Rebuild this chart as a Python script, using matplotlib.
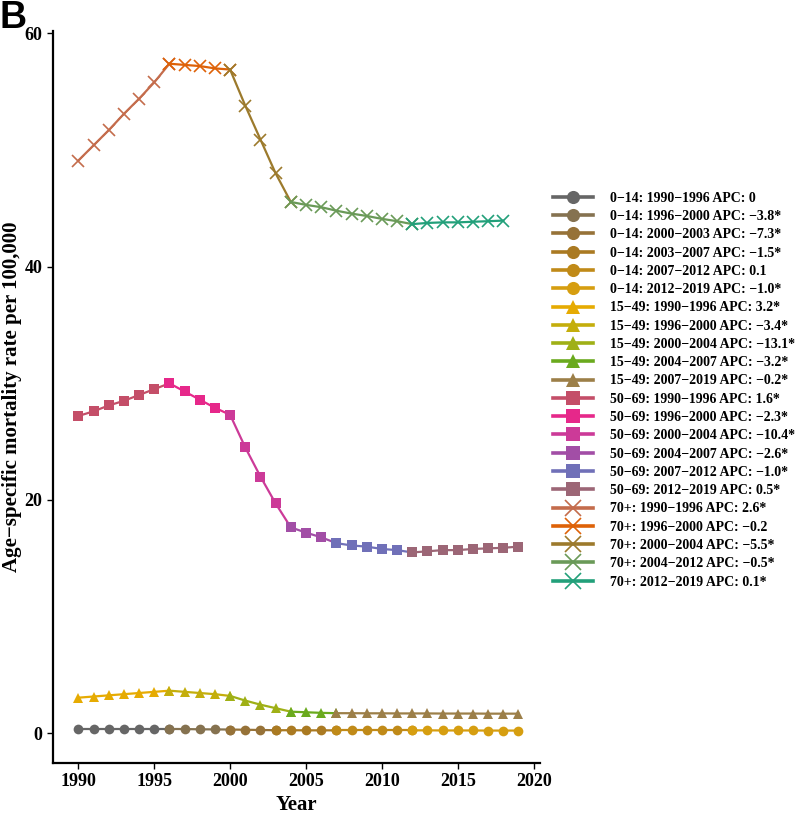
import matplotlib
matplotlib.use("Agg")
import matplotlib.pyplot as plt

years = list(range(1990, 2020))

rate_0_14 = [0.37, 0.37, 0.37, 0.37, 0.37, 0.37, 0.37, 0.36, 0.34, 0.33,
             0.32, 0.30, 0.28, 0.26, 0.26, 0.25, 0.25, 0.25, 0.25, 0.25,
             0.25, 0.25, 0.25, 0.25, 0.24, 0.24, 0.24, 0.23, 0.23, 0.23]
rate_15_49 = [3.05, 3.15, 3.25, 3.35, 3.45, 3.55, 3.65, 3.55, 3.45, 3.35,
              3.2, 2.8, 2.45, 2.15, 1.85, 1.8, 1.75, 1.72, 1.72, 1.71,
              1.71, 1.7, 1.7, 1.7, 1.69, 1.69, 1.69, 1.68, 1.68, 1.68]
rate_50_69 = [27.2, 27.6, 28.1, 28.5, 29.0, 29.5, 30.0, 29.3, 28.6, 27.9,
              27.3, 24.5, 22.0, 19.7, 17.65, 17.2, 16.8, 16.3, 16.1, 16.0,
              15.8, 15.7, 15.5, 15.6, 15.7, 15.7, 15.8, 15.85, 15.9, 16.0]
rate_70 = [49.1, 50.4, 51.7, 53.1, 54.4, 55.8, 57.4, 57.3, 57.2, 57.0,
           56.9, 53.8, 50.9, 48.0, 45.55, 45.3, 45.1, 44.8, 44.55, 44.35,
           44.1, 43.9, 43.65, 43.75, 43.8, 43.8, 43.85, 43.9, 43.95]

groups = ["0\u221214", "15\u221249", "50\u221269", "70+"]
rates = [rate_0_14, rate_15_49, rate_50_69, rate_70]
markers = ["o", "^", "s", "x"]

seg_0_14 = [(1990, 1996, "0"), (1996, 2000, "\u22123.8*"), (2000, 2003, "\u22127.3*"),
            (2003, 2007, "\u22121.5*"), (2007, 2012, "0.1"), (2012, 2019, "\u22121.0*")]
seg_15_49 = [(1990, 1996, "3.2*"), (1996, 2000, "\u22123.4*"), (2000, 2004, "\u221213.1*"),
             (2004, 2007, "\u22123.2*"), (2007, 2019, "\u22120.2*")]
seg_50_69 = [(1990, 1996, "1.6*"), (1996, 2000, "\u22122.3*"), (2000, 2004, "\u221210.4*"),
             (2004, 2007, "\u22122.6*"), (2007, 2012, "\u22121.0*"), (2012, 2019, "0.5*")]
seg_70 = [(1990, 1996, "2.6*"), (1996, 2000, "\u22120.2"), (2000, 2004, "\u22125.5*"),
          (2004, 2012, "\u22120.5*"), (2012, 2019, "0.1*")]
segments = [seg_0_14, seg_15_49, seg_50_69, seg_70]

colors = [
    ["#666666", "#857250", "#967238", "#aa7a22", "#c08a18", "#d69e10"],
    ["#e6ab02", "#c4ae0c", "#9fb016", "#6aaa1e", "#9c7f48"],
    ["#c44e68", "#e6288a", "#cc3a98", "#a24ea6", "#7070b8", "#9c6676"],
    ["#c46c4c", "#de6208", "#9c7a2c", "#6a9a58", "#22a07a"],
]

plt.rcParams['font.family'] = ['Liberation Serif', 'DejaVu Serif']
plt.rcParams['font.weight'] = 'bold'

fig = plt.figure(figsize=(7.96, 8.13), dpi=100)
ax = fig.add_axes([0.0666, 0.0615, 0.612, 0.900])

handles = []
for g, vals, mk, segs, cols in zip(groups, rates, markers, segments, colors):
    yrs = years[:len(vals)]
    for (s, e, apc), c in zip(segs, cols):
        xs = [y for y in yrs if s <= y <= e]
        ys = [v for y, v in zip(yrs, vals) if s <= y <= e]
        if mk == "x":
            h, = ax.plot(xs, ys, color=c, lw=1.6, marker=mk, ms=8.5, mew=1.2,
                         label=f"{g}: {s}\u2212{e} APC: {apc}")
        else:
            h, = ax.plot(xs, ys, color=c, lw=1.6, marker=mk, ms=7, mew=0,
                         label=f"{g}: {s}\u2212{e} APC: {apc}")
        handles.append(h)

ax.set_xlim(1988.33, 2020.43)
ax.set_ylim(-2.55, 60.18)
ax.set_xticks([1990, 1995, 2000, 2005, 2010, 2015, 2020])
ax.set_yticks([0, 20, 40, 60])
ax.spines['top'].set_visible(False)
ax.spines['right'].set_visible(False)
for sp in ['left', 'bottom']:
    ax.spines[sp].set_linewidth(1.6)
    ax.spines[sp].set_color('black')
ax.tick_params(axis='both', labelsize=13, width=1, length=4, colors='black')
for lbl in ax.get_xticklabels() + ax.get_yticklabels():
    lbl.set_fontweight('bold')

ax.set_xlabel("Year", fontsize=15, fontweight='bold', labelpad=3)
ax.set_ylabel("Age\u2212specific mortality rate per 100,000", fontsize=15, fontweight='bold', labelpad=2)

leg = ax.legend(handles=handles, loc='center left', bbox_to_anchor=(1.015, 0.5096),
                borderaxespad=0, frameon=False, fontsize=10, markerscale=1.35,
                handlelength=2.9, handletextpad=1.2, labelspacing=0.38)
for t in leg.get_texts():
    t.set_fontweight('bold')
for ln in leg.get_lines():
    ln.set_linewidth(2.6)

fig.text(0.0, 1.0, "B", family='Liberation Sans', fontsize=27, va='top', ha='left')

fig.savefig("out.png", dpi=100)
